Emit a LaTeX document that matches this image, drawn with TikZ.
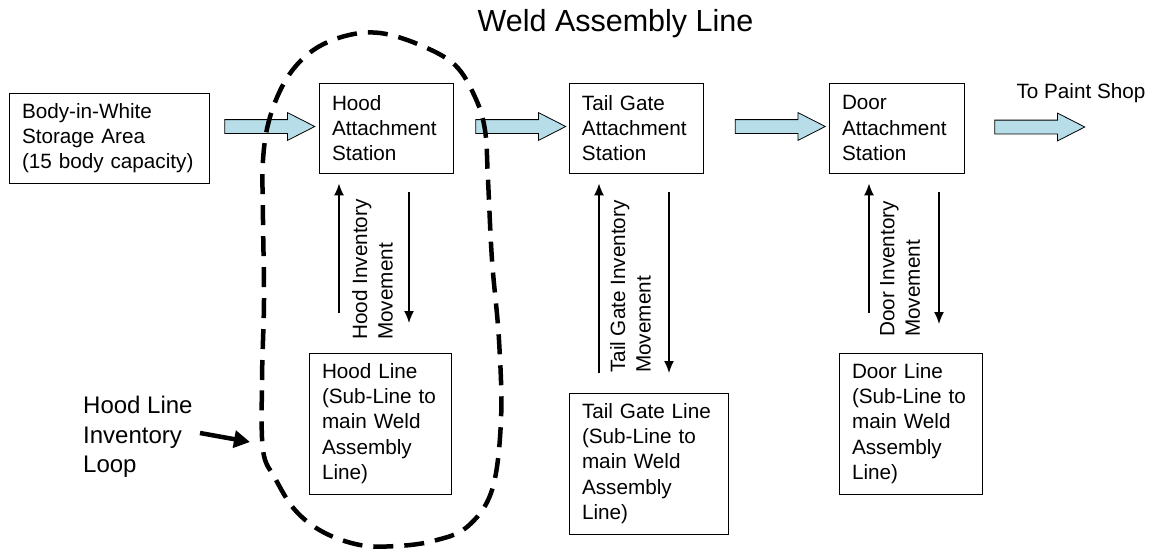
\documentclass[tikz,border=0pt]{standalone}
\usepackage{xcolor}
\usepackage{fontspec}
\setmainfont{Liberation Sans}
\usetikzlibrary{arrows.meta,shapes.arrows,positioning}

\definecolor{arrowblue}{RGB}{183,222,232}
\newcommand{\boxfont}{\fontsize{20.7}{25.3}\selectfont}
\newcommand{\notefont}{\fontsize{24}{29.5}\selectfont}
\newcommand{\titlefont}{\fontsize{30.5}{36}\selectfont}

\tikzset{
	station/.style={draw, line width=0.8pt, align=left, font=\boxfont, inner xsep=13pt, inner ysep=0pt},
	flowarrow/.style={shape=single arrow, draw, fill=arrowblue, line width=0.8pt, inner xsep=0pt, inner ysep=6.5pt,
		minimum height=90pt, single arrow head extend=7pt, single arrow tip angle=54},
	move/.style={line width=1.5pt, -{Latex[length=12pt,width=10pt]}},
	movelabel/.style={rotate=90, align=left, font=\boxfont, inner sep=0pt, anchor=north west},
	loopline/.style={line width=4.5pt, dash pattern=on 20pt off 11pt},
	notearrow/.style={line width=4.5pt, -{Triangle[length=16pt,width=17pt]}}
}

\begin{document}
\begin{tikzpicture}[x=1pt, y=-1pt]
		\useasboundingbox (0,0) rectangle (1149,550);
		\node[font=\titlefont, anchor=base] (title) at (615.5,31) {Weld Assembly Line};
		% main line
		\node[station, text width=174pt, minimum height=90pt] (biw) at (109,138) {Body-in-White\\Storage Area\\(15 body capacity)};
		\node[station, text width=108pt, minimum height=90pt] (hoodst) at (386,128) {Hood\\Attachment\\Station};
		\node[station, text width=108.5pt, minimum height=90pt] (tailst) at (636.2,128) {Tail Gate\\Attachment\\Station};
		\node[station, text width=109pt, minimum height=90pt] (doorst) at (896.5,128) {Door\\Attachment\\Station};
		\node[flowarrow] (biw2hood) at (263,126.5) {};
		\node[flowarrow] (hood2tail) at (514,126.5) {};
		\node[flowarrow] (tail2door) at (773.5,126.5) {};
		\node[flowarrow] (door2paint) at (1033,127) {};
		\node[font=\boxfont, anchor=base west] (paint) at (1013,98) {To Paint Shop};
		% sub-lines
		\node[station, text width=116pt, minimum height=141pt] (hoodln) at (380,423.5) {Hood Line\\(Sub-Line to\\main Weld\\Assembly\\Line)};
		\node[station, text width=133pt, minimum height=141pt] (tailln) at (648.5,463.5) {Tail Gate Line\\(Sub-Line to\\main Weld\\Assembly\\Line)};
		\node[station, text width=117pt, minimum height=141pt] (doorln) at (910.5,423.5) {Door Line\\(Sub-Line to\\main Weld\\Assembly\\Line)};
		% inventory movement
		\coordinate (hoodup) at (339,313);
		\coordinate (hooddown) at (409,323);
		\coordinate (tailup) at (599,373);
		\coordinate (taildown) at (669,373);
		\coordinate (doorup) at (869,313);
		\coordinate (doordown) at (939,324);
		\draw[move, shorten >=10pt] (hoodup) -- (hoodup |- hoodst.south);
		\draw[move, shorten <=19pt] (hoodst.south -| hooddown) -- (hooddown);
		\draw[move, shorten >=10pt] (tailup) -- (tailup |- tailst.south);
		\draw[move, shorten <=19pt] (tailst.south -| taildown) -- (taildown);
		\draw[move, shorten >=10pt] (doorup) -- (doorup |- doorst.south);
		\draw[move, shorten <=19pt] (doorst.south -| doordown) -- (doordown);
		\node[movelabel] (hoodmv) at (352,340) {Hood Inventory\\Movement};
		\node[movelabel] (tailmv) at (610,373) {Tail Gate Inventory\\Movement};
		\node[movelabel] (doormv) at (880,337) {Door Inventory\\Movement};
		% hood line loop
		\draw[loopline] plot[smooth cycle, tension=0.6] coordinates {(263,450) (262,380) (264,300) (263,220) (263,160) (270,117) (287,78) (312,51) (345,36) (380,33) (420,45) (455,65) (475,97) (485,130) (488,180) (492,260) (499,340) (501,420) (492,490) (467,527) (433,541) (397,546) (360,545) (323,532) (295,510) (275,478)};
		\node[font=\notefont, align=left, inner sep=0pt, anchor=north west] (loopnote) at (83,396) {Hood Line\\Inventory\\Loop};
		\coordinate (looptip) at (250,442);
		\draw[notearrow] (200,433) -- (looptip);
	\end{tikzpicture}
\end{document}
